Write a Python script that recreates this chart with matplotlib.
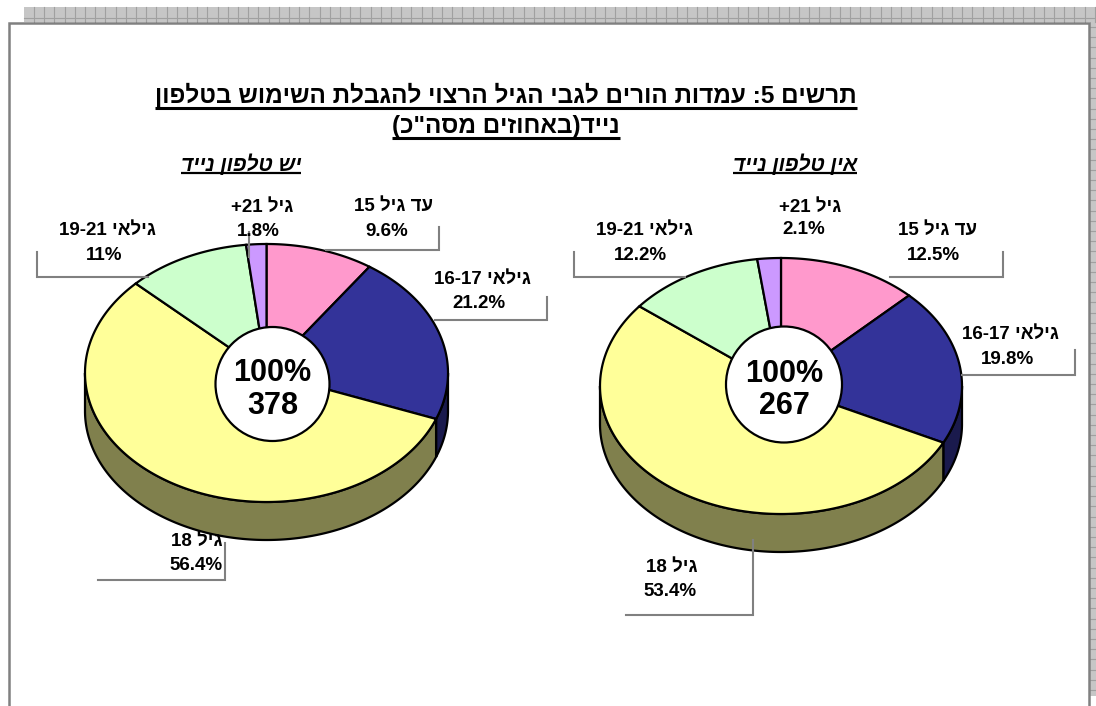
import re
import numpy as np
import matplotlib
matplotlib.use('Agg')
import matplotlib.pyplot as plt

plt.rcParams['font.family'] = ['Liberation Sans', 'DejaVu Sans']

# data
categories = ['עד גיל 15', 'גילאי 16-17', 'גיל 18', 'גילאי 19-21', 'גיל 21+']
no_phone_vals = [12.5, 19.8, 53.4, 12.2, 2.1]
has_phone_vals = [9.6, 21.2, 56.4, 11, 1.8]
no_phone_n = 267
has_phone_n = 378
title_lines = ['תרשים 5: עמדות הורים לגבי הגיל הרצוי להגבלת השימוש בטלפון', 'נייד(באחוזים מסה"כ)']
no_phone_title = 'אין טלפון נייד'
has_phone_title = 'יש טלפון נייד'

top_colors = ['#ff99cc', '#333399', '#ffff99', '#ccffcc', '#cc99ff']
side_colors = ['#804d66', '#1a1a4d', '#80804d', '#668066', '#664d80']
DEPTH = 38


def vis(s):
    # matplotlib has no bidi, so put the hebrew in display order
    s = s[::-1].translate(str.maketrans('()', ')('))
    return re.sub(r'[0-9.\-%]+', lambda m: m.group(0)[::-1], s)


def arc(cx, cy, rx, ry, t0, t1):
    t = np.radians(np.linspace(t0, t1, max(2, int(abs(t1 - t0) * 2))))
    return cx + rx * np.sin(t), cy - ry * np.cos(t)


def draw_pie(ax, vals, n, cx, cy, rx, ry, hole, label_pos, leaders):
    edges = np.cumsum([0] + list(vals)) / float(sum(vals)) * 360

    # side wall, only the front half of the rim shows
    for i in range(len(vals)):
        a, b = max(edges[i], 90), min(edges[i + 1], 270)
        if a >= b:
            continue
        x, y = arc(cx, cy, rx, ry, a, b)
        ax.fill(np.r_[x, x[::-1]], np.r_[y, y[::-1] + DEPTH], fc=side_colors[i], ec='k', lw=1.6, zorder=2)

    for i in range(len(vals)):
        x, y = arc(cx, cy, rx, ry, edges[i], edges[i + 1])
        ax.fill(np.r_[cx, x], np.r_[cy, y], fc=top_colors[i], ec='k', lw=1.6, zorder=3)

    hx, hy, hr = hole
    ax.add_patch(plt.Circle((hx, hy), hr, fc='white', ec='k', lw=1.6, zorder=4))
    ax.text(hx, hy - 11, '100%', ha='center', va='center', fontsize=22, fontweight='bold', zorder=5)
    ax.text(hx, hy + 22, str(n), ha='center', va='center', fontsize=22, fontweight='bold', zorder=5)

    for xs, ys in leaders:
        ax.plot(xs, ys, color='#808080', lw=1.5, zorder=6, solid_joinstyle='miter')

    for i, (name, v) in enumerate(zip(categories, vals)):
        (x1, y1), (x2, y2) = label_pos[i]
        ax.text(x1, y1 + 2, vis(name), ha='center', va='center', fontsize=13.5, fontweight='bold', color='k', zorder=7)
        ax.text(x2, y2 + 2, '%g%%' % v, ha='center', va='center', fontsize=13.5, fontweight='bold', color='k', zorder=7)


def underlined(ax, fig, x, y, s, size, style='normal', off=12, lw=2):
    t = ax.text(x, y, s, ha='center', va='center', fontsize=size, fontweight='bold', fontstyle=style)
    bb = t.get_window_extent(fig.canvas.get_renderer())
    ax.plot([bb.x0, bb.x1], [y + off, y + off], color='k', lw=lw, solid_capstyle='butt')


fig = plt.figure(figsize=(10.96, 7.06), dpi=100)
ax = fig.add_axes([0, 0, 1, 1])
ax.set_xlim(0, 1096)
ax.set_ylim(706, 0)
ax.axis('off')

# page border and the grey ruler bands
ax.fill([24, 1096, 1096, 24], [7, 7, 22, 22], fc='#c6c6c6', ec='none', zorder=0)
ax.fill([1090, 1096, 1096, 1090], [22, 22, 696, 696], fc='#c6c6c6', ec='none', zorder=0)
for gx in np.arange(34, 1096, 10.2):
    ax.plot([gx, gx], [7, 22], color='#a0a0a0', lw=0.8, zorder=0)
ax.plot([24, 1096], [18, 18], color='#a0a0a0', lw=0.8, zorder=0)
for gy in np.arange(27, 696, 10.2):
    ax.plot([1090, 1096], [gy, gy], color='#a0a0a0', lw=0.8, zorder=0)
ax.plot([9, 9, 1089, 1089], [706, 23, 23, 706], color='#808080', lw=1.8, zorder=1, solid_joinstyle='miter')

fig.canvas.draw()
underlined(ax, fig, 506, 95, vis(title_lines[0]), 17.5, off=13, lw=2.2)
underlined(ax, fig, 506, 126, vis(title_lines[1]), 17.5, off=12, lw=2.2)
underlined(ax, fig, 795, 164, vis(no_phone_title), 15, style='italic', off=9, lw=1.6)
underlined(ax, fig, 241, 164, vis(has_phone_title), 15, style='italic', off=9, lw=1.6)

draw_pie(ax, no_phone_vals, no_phone_n, 781, 386, 181, 128, (784, 384.5, 58),
         [((938, 228), (933, 253)), ((1010, 332), (1007, 357)), ((672, 565), (670, 589)),
          ((644, 228), (640, 253)), ((810, 205), (804, 228))],
         [([890, 1003, 1003], [277, 277, 252]), ([962, 1075, 1075], [375, 375, 350]),
          ([753, 753, 626], [540, 615, 615]), ([574, 574, 685], [252, 277, 277])])

draw_pie(ax, has_phone_vals, has_phone_n, 266.5, 373, 181.5, 129, (272.5, 384, 57),
         [((393, 204), (387, 229)), ((482, 277), (479, 302)), ((197, 539), (196, 564)),
          ((107, 228), (104, 253)), ((262, 205), (258, 229))],
         [([326, 439, 439], [250, 250, 227]), ([435, 547, 547], [320, 320, 297]),
          ([225, 225, 98], [543, 580, 580]), ([37, 37, 148], [252, 277, 277]),
          ([249, 249], [232, 257])])

plt.savefig('out.png', dpi=100)
